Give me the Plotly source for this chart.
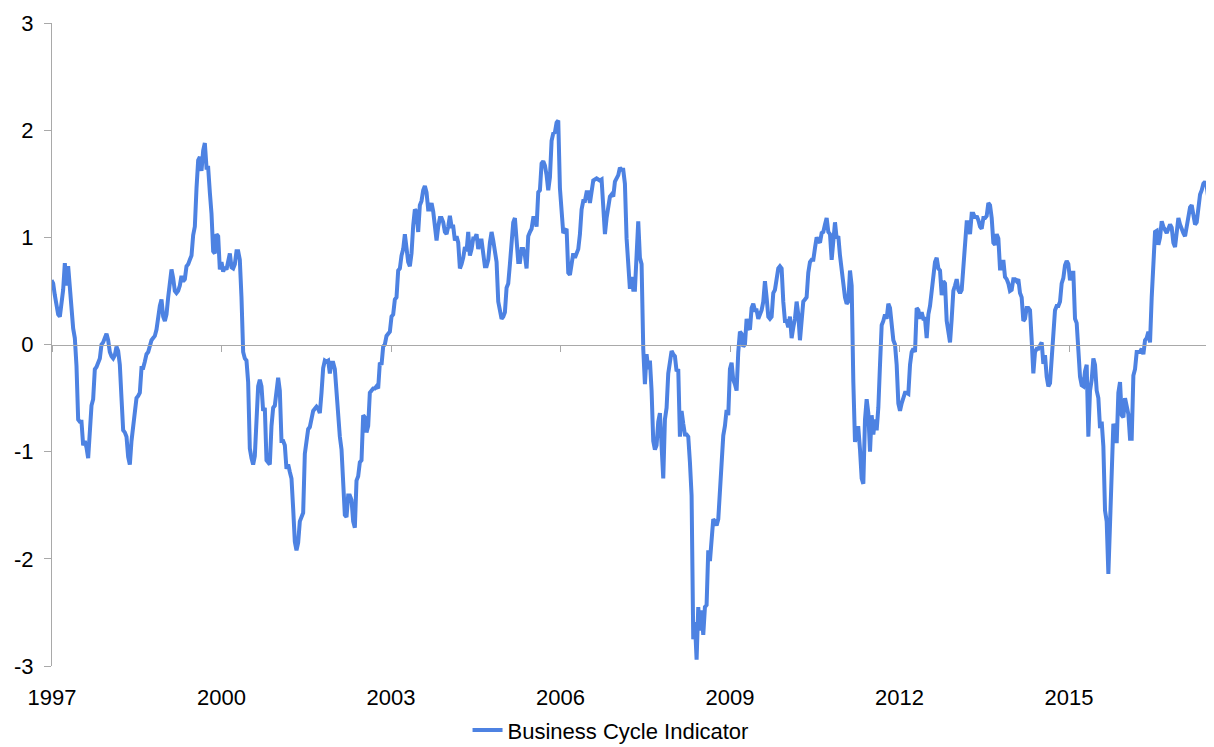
import numpy as np
import plotly.graph_objects as go

# Business Cycle Indicator in six consecutive stretches
# (each stretch evenly spaced in time between its start and end year)
seg_years = [
    (1996.991, 2000.295),
    (2000.324, 2003.658),
    (2003.688, 2007.022),
    (2007.051, 2010.385),
    (2010.415, 2013.749),
    (2013.778, 2017.466),
]

bci_1997_2000 = [
    0.60, 0.57, 0.46, 0.34, 0.28, 0.26, 0.40, 0.51, 0.76, 0.55,
    0.73, 0.53, 0.30, 0.15, 0.06, -0.20, -0.70, -0.72, -0.72, -0.94,
    -0.90, -0.96, -1.06, -0.82, -0.57, -0.51, -0.23, -0.21, -0.17, -0.13,
    0.00, 0.02, 0.06, 0.10, 0.04, -0.07, -0.11, -0.13, -0.10, -0.02,
    -0.06, -0.19, -0.50, -0.80, -0.82, -0.86, -1.05, -1.12, -0.90, -0.75,
    -0.62, -0.50, -0.48, -0.45, -0.22, -0.22, -0.16, -0.09, -0.07, 0.00,
    0.04, 0.06, 0.08, 0.14, 0.28, 0.36, 0.42, 0.26, 0.22, 0.28,
    0.44, 0.60, 0.70, 0.62, 0.50, 0.48, 0.50, 0.55, 0.64, 0.59,
    0.61, 0.73, 0.75, 0.79, 0.83, 1.02, 1.10, 1.46, 1.72, 1.75,
    1.62, 1.81, 1.88, 1.65, 1.65, 1.42, 1.22, 0.87, 0.85, 1.03,
    1.01, 0.70, 0.77, 0.68, 0.72, 0.70, 0.80, 0.85, 0.72, 0.71,
    0.75, 0.87, 0.87,
]

bci_2000_2003 = [
    0.79, 0.44, -0.07, -0.13, -0.15, -0.35, -0.97, -1.06, -1.12, -1.04,
    -0.74, -0.39, -0.33, -0.39, -0.62, -0.59, -1.08, -1.10, -1.12, -0.76,
    -0.59, -0.57, -0.39, -0.31, -0.43, -0.90, -0.90, -0.94, -1.16, -1.12,
    -1.19, -1.25, -1.53, -1.84, -1.92, -1.85, -1.65, -1.61, -1.57, -1.02,
    -0.90, -0.79, -0.77, -0.68, -0.62, -0.60, -0.58, -0.60, -0.64, -0.45,
    -0.22, -0.15, -0.16, -0.15, -0.27, -0.17, -0.17, -0.23, -0.43, -0.74,
    -0.86, -0.98, -1.33, -1.59, -1.61, -1.41, -1.41, -1.45, -1.65, -1.71,
    -1.27, -1.23, -1.10, -1.08, -0.66, -0.68, -0.82, -0.76, -0.45, -0.43,
    -0.41, -0.41, -0.39, -0.41, -0.17, -0.19, -0.02, 0.00, 0.08, 0.10,
    0.12, 0.26, 0.28, 0.42, 0.44, 0.69, 0.71, 0.83, 0.89, 1.03,
    0.91, 0.77, 0.73, 0.85, 1.11, 1.26, 1.24, 1.05, 1.30, 1.34,
    1.44, 1.48, 1.42, 1.26,
]

bci_2003_2007 = [
    1.26, 1.32, 1.24, 1.06, 0.97, 1.10, 1.18, 1.18, 1.14, 1.05,
    1.03, 1.10, 1.20, 1.10, 1.10, 0.97, 1.01, 0.95, 0.71, 0.75,
    0.81, 0.91, 0.87, 1.05, 0.83, 0.89, 0.99, 0.99, 1.03, 0.89,
    0.97, 0.97, 0.81, 0.73, 0.73, 0.79, 0.95, 1.05, 0.97, 0.83,
    0.77, 0.40, 0.32, 0.24, 0.26, 0.30, 0.53, 0.57, 0.75, 0.97,
    1.14, 1.18, 0.99, 0.77, 0.77, 0.89, 0.89, 0.83, 0.71, 1.01,
    1.05, 1.08, 1.18, 1.18, 1.10, 1.42, 1.44, 1.69, 1.71, 1.67,
    1.58, 1.44, 1.56, 1.90, 1.97, 1.98, 2.07, 2.09, 1.46, 1.25,
    1.04, 1.06, 1.08, 0.67, 0.65, 0.75, 0.85, 0.81, 0.85, 0.89,
    1.03, 1.26, 1.34, 1.34, 1.42, 1.42, 1.32, 1.42, 1.53, 1.54,
    1.55, 1.54, 1.53, 1.54, 1.20, 1.03, 1.18, 1.28, 1.38, 1.40,
    1.38, 1.52, 1.56, 1.58,
]

bci_2007_2010 = [
    1.65, 1.63, 1.63, 1.50, 0.99, 0.79, 0.52, 0.63, 0.51, 0.51,
    0.89, 1.15, 0.81, 0.75, -0.04, -0.37, -0.09, -0.23, -0.15, -0.43,
    -0.90, -0.98, -0.94, -0.72, -0.64, -0.94, -1.25, -0.70, -0.59, -0.27,
    -0.13, -0.06, -0.09, -0.11, -0.25, -0.23, -0.86, -0.62, -0.74, -0.84,
    -0.84, -0.86, -1.10, -1.41, -2.75, -2.59, -2.94, -2.45, -2.67, -2.48,
    -2.71, -2.45, -2.43, -1.92, -2.02, -1.84, -1.63, -1.65, -1.69, -1.63,
    -1.33, -1.10, -0.85, -0.76, -0.61, -0.66, -0.23, -0.17, -0.33, -0.37,
    -0.43, -0.07, 0.12, 0.10, -0.02, 0.00, 0.24, 0.16, 0.14, 0.34,
    0.38, 0.32, 0.32, 0.24, 0.28, 0.32, 0.40, 0.59, 0.44, 0.26,
    0.24, 0.26, 0.48, 0.51, 0.61, 0.71, 0.73, 0.71, 0.40, 0.22,
    0.22, 0.16, 0.26, 0.06, 0.16, 0.24, 0.40, 0.28, 0.04, 0.28,
    0.40, 0.42, 0.44, 0.67,
]

bci_2010_2013 = [
    0.77, 0.79, 0.79, 0.90, 1.00, 0.97, 0.95, 1.04, 1.05, 1.12,
    1.18, 1.05, 1.03, 0.79, 0.95, 1.14, 0.99, 1.01, 0.83, 0.69,
    0.57, 0.44, 0.38, 0.40, 0.69, 0.55, -0.35, -0.91, -0.78, -0.78,
    -0.98, -1.25, -1.30, -0.70, -0.51, -0.64, -1.00, -0.66, -0.84, -0.70,
    -0.80, -0.59, -0.19, 0.18, 0.22, 0.28, 0.24, 0.38, 0.34, 0.22,
    0.04, 0.00, -0.19, -0.55, -0.62, -0.55, -0.50, -0.45, -0.45, -0.46,
    -0.19, -0.07, -0.04, -0.07, 0.34, 0.32, 0.24, 0.30, 0.24, 0.24,
    0.06, 0.28, 0.36, 0.51, 0.71, 0.77, 0.81, 0.71, 0.69, 0.46,
    0.59, 0.57, 0.22, 0.12, 0.02, 0.24, 0.50, 0.55, 0.61, 0.51,
    0.48, 0.51, 0.73, 0.85, 1.14, 1.14, 1.03, 1.22, 1.22, 1.18,
    1.20, 1.16, 1.10, 1.08, 1.18, 1.18, 1.20, 1.32, 1.30, 1.18,
    0.95, 0.93, 1.03, 0.99,
]

bci_2013_2017 = [
    0.71, 0.71, 0.79, 0.63, 0.61, 0.57, 0.50, 0.51, 0.61, 0.61,
    0.59, 0.61, 0.48, 0.44, 0.22, 0.24, 0.34, 0.34, 0.32, 0.04,
    -0.27, -0.07, -0.04, -0.04, 0.00, 0.02, -0.18, -0.10, -0.30, -0.39,
    -0.36, -0.10, 0.20, 0.32, 0.36, 0.36, 0.40, 0.57, 0.62, 0.74,
    0.78, 0.75, 0.60, 0.67, 0.67, 0.24, 0.20, -0.02, -0.30, -0.38,
    -0.39, -0.25, -0.19, -0.86, -0.43, -0.33, -0.13, -0.19, -0.43, -0.50,
    -0.78, -0.72, -0.95, -1.55, -1.65, -2.14, -1.65, -1.21, -0.74, -0.80,
    -0.92, -0.45, -0.35, -0.66, -0.68, -0.50, -0.60, -0.65, -0.88, -0.88,
    -0.29, -0.23, -0.07, -0.07, -0.07, -0.04, -0.09, 0.04, 0.06, 0.12,
    0.02, 0.44, 0.81, 1.05, 1.06, 0.93, 1.00, 1.15, 1.10, 1.06,
    1.04, 1.08, 1.12, 1.09, 0.95, 0.91, 1.10, 1.18, 1.12, 1.07,
    1.04, 1.01, 1.10, 1.24, 1.28, 1.30, 1.18, 1.12, 1.14, 1.25,
    1.40, 1.44, 1.50, 1.52, 1.48, 1.36,
]

segments = [bci_1997_2000, bci_2000_2003, bci_2003_2007,
            bci_2007_2010, bci_2010_2013, bci_2013_2017]

tick_years = [1997, 2000, 2003, 2006, 2009, 2012, 2015]
y_ticks = [3, 2, 1, 0, -1, -2, -3]
series_name = "Business Cycle Indicator"

x_all, y_all = [], []
for (y0, y1), vals in zip(seg_years, segments):
    x_all.extend(np.linspace(y0, y1, len(vals)).tolist())
    y_all.extend(vals)

LINE_BLUE = "#4D82E2"
AXIS_GREY = "#A9A9A9"
FONT = dict(family="Liberation Sans, Arial, sans-serif", size=22, color="#000000")
x_range = [1997.0, 2017.53]

fig = go.Figure()
fig.add_trace(go.Scatter(
    x=x_all, y=y_all, mode="lines", name=series_name,
    line=dict(color=LINE_BLUE, width=4),
))
# empty trace so the zero-level axis (with its year ticks) is drawn
fig.add_trace(go.Scatter(x=[], y=[], xaxis="x2", showlegend=False, hoverinfo="skip"))

# the page body adds an 8px margin, so the figure is offset by 8px on the left and top
fig.update_layout(
    width=1206, height=739,
    margin=dict(l=44, r=2, t=15, b=81, autoexpand=False),
    paper_bgcolor="white", plot_bgcolor="white",
    font=FONT,
    showlegend=True,
    legend=dict(orientation="h", x=0.4815, xanchor="center", y=-0.1, yanchor="middle",
                font=FONT, itemwidth=30, bgcolor="rgba(0,0,0,0)"),
    xaxis=dict(range=x_range, tickvals=tick_years, ticktext=[str(t) for t in tick_years],
               showgrid=False, zeroline=False, showline=False, automargin=False,
               ticks="outside", ticklen=12, tickcolor="rgba(0,0,0,0)",
               tickfont=FONT),
    xaxis2=dict(range=x_range, overlaying="x", anchor="free", position=0.5,
                tickvals=tick_years, showticklabels=False, automargin=False,
                showgrid=False, zeroline=False, showline=True,
                linecolor=AXIS_GREY, linewidth=1.3,
                ticks="outside", ticklen=6, tickcolor=AXIS_GREY, tickwidth=1.3),
    yaxis=dict(range=[-3, 3], tickvals=y_ticks, ticktext=[str(v) for v in y_ticks],
               showgrid=False, zeroline=False, showline=True, automargin=False,
               linecolor=AXIS_GREY, linewidth=1.3,
               ticks="outside", ticklen=7, tickcolor=AXIS_GREY, tickwidth=1.3,
               ticklabelstandoff=6, tickfont=FONT),
)

fig.write_html("out.html")
